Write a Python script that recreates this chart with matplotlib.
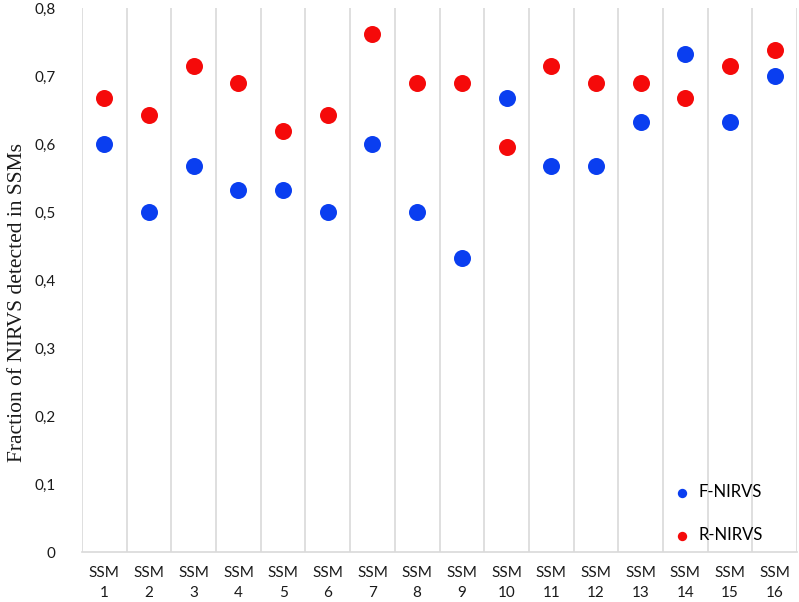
import matplotlib.pyplot as plt
from matplotlib.ticker import FuncFormatter, FixedLocator

# categories and values
ssm = [f"SSM\n{i}" for i in range(1, 17)]
f_nirvs = [0.600, 0.500, 0.567, 0.533, 0.533, 0.500, 0.600, 0.500,
           0.433, 0.667, 0.567, 0.567, 0.633, 0.733, 0.633, 0.700]
r_nirvs = [0.667, 0.643, 0.714, 0.690, 0.619, 0.643, 0.762, 0.690,
           0.690, 0.595, 0.714, 0.690, 0.690, 0.667, 0.714, 0.738]

plt.rcParams["font.family"] = ["Lato", "DejaVu Sans"]

fig = plt.figure(figsize=(7.99, 6.02), dpi=100)
ax = fig.add_axes([82 / 799, 50 / 602, 715 / 799, 544 / 602])

x = list(range(1, len(ssm) + 1))
ax.scatter(x, f_nirvs, s=150, color="#0a3ef0", zorder=3, label="F-NIRVS", linewidths=0)
ax.scatter(x, r_nirvs, s=150, color="#f50a0a", zorder=3, label="R-NIRVS", linewidths=0)

ax.set_xlim(0.5, len(ssm) + 0.5)
ax.set_ylim(0, 0.8)
ax.set_xticks(x)
ax.set_xticklabels(ssm, fontsize=11, linespacing=1.55, color="#1a1a1a")
ax.xaxis.set_minor_locator(FixedLocator([i + 0.5 for i in range(0, len(ssm) + 1)]))
ax.grid(which="minor", axis="x", color="#d9d9d9", linewidth=1.2)
ax.tick_params(axis="x", which="both", length=0, pad=10)
ax.tick_params(axis="y", length=0, pad=19, labelsize=11, labelcolor="#1a1a1a")
ax.set_yticks([i / 10 for i in range(9)])
ax.yaxis.set_major_formatter(FuncFormatter(lambda v, p: "0" if v == 0 else f"{v:.1f}".replace(".", ",")))

for s in ["top", "right", "left"]:
    ax.spines[s].set_visible(False)
ax.spines["bottom"].set_color("#d9d9d9")
ax.spines["bottom"].set_linewidth(1.2)

fig.text(18 / 799, 1 - 302 / 602, "Fraction of NIRVS detected in SSMs", family="Liberation Serif",
         fontsize=15.5, rotation=90, ha="center", va="center", color="#1a1a1a")

ax.legend(loc="lower right", bbox_to_anchor=(0.969, -0.005), frameon=False, fontsize=12,
          markerscale=0.55, handletextpad=0.0, labelspacing=1.6, borderaxespad=0.3)

fig.savefig("out.png", dpi=100)
